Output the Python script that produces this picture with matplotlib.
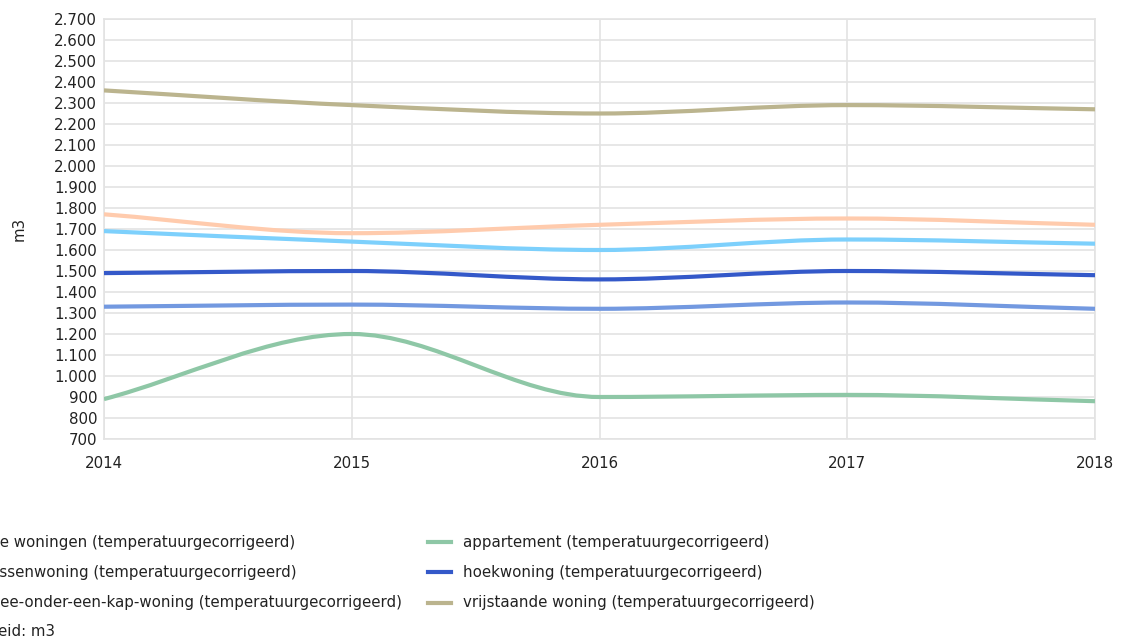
import numpy as np
import matplotlib
matplotlib.use('Agg')
import matplotlib.pyplot as plt
from matplotlib.path import Path
from matplotlib.patches import PathPatch
from matplotlib.lines import Line2D

plt.rcParams['font.family'] = ['DejaVu Sans']

years = [2014, 2015, 2016, 2017, 2018]

alle_woningen = [1690, 1640, 1600, 1650, 1630]
appartement = [890, 1200, 900, 910, 880]
tussenwoning = [1330, 1340, 1320, 1350, 1320]
hoekwoning = [1490, 1500, 1460, 1500, 1480]
twee_onder_een_kap = [1770, 1680, 1720, 1750, 1720]
vrijstaande = [2360, 2290, 2250, 2290, 2270]

suffix = ' (temperatuurgecorrigeerd)'
series = [
    ('alle woningen', alle_woningen, '#7dd0fc'),
    ('tussenwoning', tussenwoning, '#7399e0'),
    ('twee-onder-een-kap-woning', twee_onder_een_kap, '#ffcbad'),
    ('appartement', appartement, '#8ec7a6'),
    ('hoekwoning', hoekwoning, '#3459c9'),
    ('vrijstaande woning', vrijstaande, '#bbb48e'),
]

W, H = 1123, 641
FS = 10.8
TXT = '#222222'


def px(x, y):
    return x / W, 1 - y / H


def monotone_path(xs, ys):
    # smooth curve through the data points (monotone cubic, bezier segments)
    xs = np.asarray(xs, float)
    ys = np.asarray(ys, float)
    h = np.diff(xs)
    d = np.diff(ys) / h
    m = np.zeros_like(ys)
    m[0], m[-1] = d[0], d[-1]
    for i in range(1, len(ys) - 1):
        if d[i - 1] * d[i] > 0:
            m[i] = 2 / (1 / d[i - 1] + 1 / d[i])
    verts = [(xs[0], ys[0])]
    codes = [Path.MOVETO]
    for i in range(len(h)):
        verts += [(xs[i] + h[i] / 3, ys[i] + m[i] * h[i] / 3),
                  (xs[i + 1] - h[i] / 3, ys[i + 1] - m[i + 1] * h[i] / 3),
                  (xs[i + 1], ys[i + 1])]
        codes += [Path.CURVE4] * 3
    return Path(verts, codes)


fig = plt.figure(figsize=(W / 100, H / 100), dpi=100)
l, t = px(104, 19)
r, b = px(1095, 439)
ax = fig.add_axes([l, b, r - l, t - b])

order = [1, 3, 0, 4, 2, 5]
for i in order:
    name, vals, col = series[i]
    ax.add_patch(PathPatch(monotone_path(years, vals), fill=False,
                           edgecolor=col, lw=3, capstyle='butt', zorder=3))

ax.set_xlim(2014, 2018)
ax.set_ylim(700, 2700)
ax.set_xticks(years)
ax.set_yticks(np.arange(700, 2701, 100))
ax.set_yticklabels([f'{v:,}'.replace(',', '.') for v in range(700, 2701, 100)])
ax.grid(True, color='#e3e3e3', lw=1.2)
ax.set_axisbelow(True)
for s in ax.spines.values():
    s.set_color('#e3e3e3')
    s.set_linewidth(1.2)
ax.tick_params(length=0, labelsize=FS, colors=TXT, pad=5)
ax.tick_params(axis='x', pad=12)
ax.set_ylabel('m3', fontsize=FS, color=TXT, labelpad=20)

# legend, partly cut off at the left edge like the original
rows = [542, 572, 603]
offs = [-18, -16, -18]
for k, i in enumerate(range(3)):
    name, vals, col = series[i]
    fig.add_artist(Line2D([px(-55, 0)[0], px(-32, 0)[0]],
                          [px(0, rows[k])[1]] * 2, color=col, lw=3))
    fig.text(*px(offs[k], rows[k]), name + suffix, fontsize=FS,
             color=TXT, va='center')
for k, i in enumerate(range(3, 6)):
    name, vals, col = series[i]
    fig.add_artist(Line2D([px(428, 0)[0], px(451, 0)[0]],
                          [px(0, rows[k])[1]] * 2, color=col, lw=3))
    fig.text(*px(463, rows[k]), name + suffix, fontsize=FS,
             color=TXT, va='center')
fig.text(*px(-40, 632), 'Eenheid: m3', fontsize=FS, color=TXT, va='center')

fig.savefig('out.png', dpi=100)
